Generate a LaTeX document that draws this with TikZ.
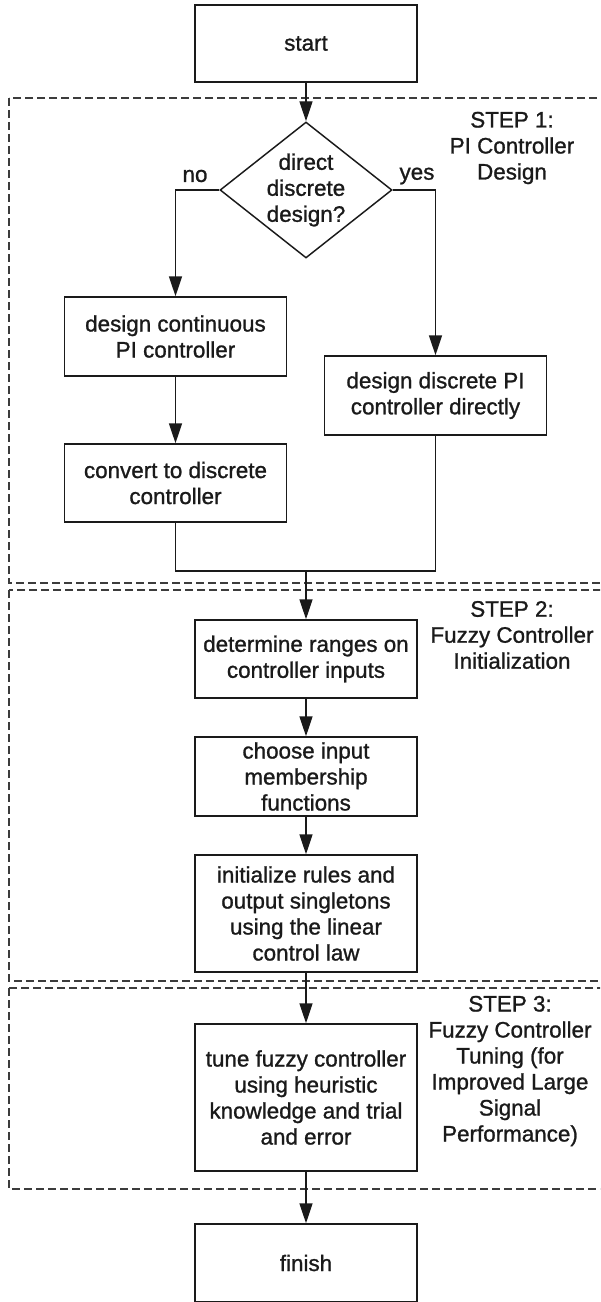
\documentclass[tikz,border=0pt]{standalone}
\usepackage{fontspec}
\setmainfont{Liberation Sans}
\newfontfamily\chartfont{Liberation Sans}[FakeBold=1.1]
\usetikzlibrary{arrows.meta,shapes.geometric}
\definecolor{ink}{HTML}{1A1A1A}
\tikzset{
  txt/.style={font=\chartfont\fontsize{16.8}{19.5}\selectfont, text=ink},
  box/.style={txt, draw=ink, line width=1.1pt, minimum width=166.5pt,
    inner sep=0pt, align=center},
  decision/.style={txt, diamond, draw=ink, line width=1.1pt, aspect=1.265,
    minimum width=129pt, minimum height=102pt, inner sep=0pt, align=center},
  link/.style={draw=ink, line width=1.1pt},
  flow/.style={link, -{Triangle[length=15pt,width=9.75pt]}},
  stage/.style={draw=ink!85, line width=1.1pt, dash pattern=on 6pt off 3pt},
  steplabel/.style={txt, align=center, inner sep=0pt},
  branch/.style={txt, inner sep=0pt}
}
\begin{document}
\begin{tikzpicture}[x=0.75pt,y=-0.75pt]
\useasboundingbox (0,0) rectangle (600,1302);
\clip (0,0) rectangle (600,1302);

% dashed frames of the three design stages
\draw[stage] (9,98) rectangle (640,583);
\draw[stage] (9,590) rectangle (640,981);
\draw[stage] (9,988) rectangle (640,1189);

% process boxes
\node[box, minimum height=57.75pt] (start) at (306,43.5) {start};
\node[decision] (dir) at (306,190) {direct\\discrete\\design?};
\node[box, minimum height=59.25pt] (cont) at (175.5,336.5) {design continuous\\PI controller};
\node[box, minimum height=58.5pt] (conv) at (175.5,483) {convert to discrete\\controller};
\node[box, minimum height=59.25pt] (disc) at (435.5,395.5) {design discrete PI\\controller directly};
\node[box, minimum height=58.5pt] (rng) at (306,659) {determine ranges on\\controller inputs};
\node[box, minimum height=59.25pt] (mf) at (306,776.5) {choose input\\membership\\functions};
\node[box, minimum height=87.75pt] (init) at (306,913.5) {initialize rules and\\output singletons\\using the linear\\control law};
\node[box, minimum height=110.25pt] (tune) at (306,1097.5) {tune fuzzy controller\\using heuristic\\knowledge and trial\\and error};
\node[box, minimum height=58.5pt] (fin) at (306,1263) {finish};

% branch labels
\node[branch] (no) at (195,176) {no};
\node[branch] (yes) at (417,176) {yes};

% stage titles
\node[steplabel] (s1) at (512,148) {STEP 1:\\PI Controller\\Design};
\node[steplabel] (s2) at (512,635) {STEP 2:\\Fuzzy Controller\\Initialization};
\node[steplabel] (s3) at (510,1071) {STEP 3:\\Fuzzy Controller\\Tuning (for\\Improved Large\\Signal\\Performance)};

% connectors
\coordinate (join) at (306,571);
\draw[flow] (start) -- (dir);
\draw[flow] (dir.west) -| (cont.north);
\draw[flow] (dir.east) -| (disc.north);
\draw[flow] (cont) -- (conv);
\draw[link] (conv.south) |- (join);
\draw[link] (disc.south) |- (join);
\draw[flow] (join) -- (rng);
\draw[flow] (rng) -- (mf);
\draw[flow] (mf) -- (init);
\draw[flow] (init) -- (tune);
\draw[flow] (tune) -- (fin);
\end{tikzpicture}
\end{document}
